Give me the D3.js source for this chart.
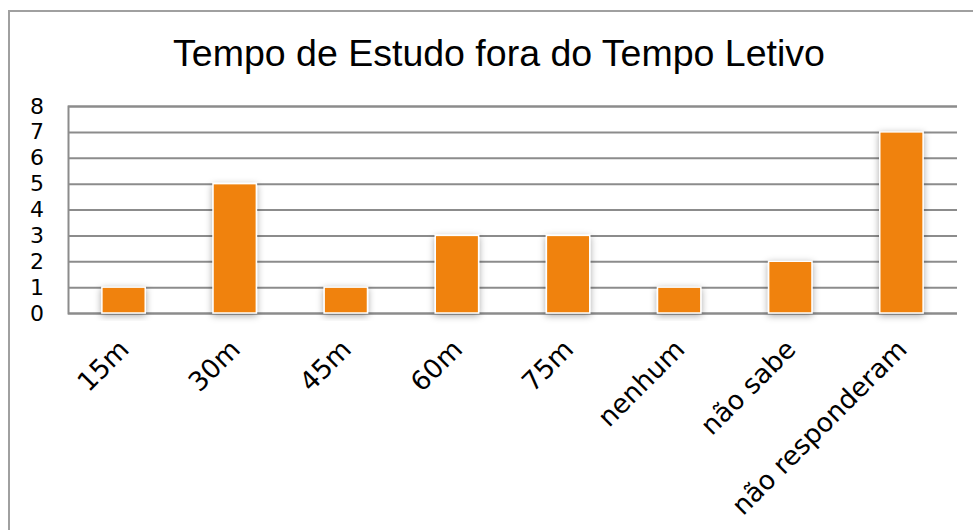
<!DOCTYPE html>
<html>
<head>
<meta charset="utf-8">
<script src="https://cdn.jsdelivr.net/npm/d3@7"></script>
<style>
  html, body { margin: 0; padding: 0; background: #fff; }
  svg { display: block; }
</style>
</head>
<body>
<svg id="chart" width="973" height="530"></svg>
<script>
const title = "Tempo de Estudo fora do Tempo Letivo";
const categories = ["15m", "30m", "45m", "60m", "75m", "nenhum", "não sabe", "não responderam"];
const values = [1, 5, 1, 3, 3, 1, 2, 7];
const yTicks = [0, 1, 2, 3, 4, 5, 6, 7, 8];

const W = 973, H = 530;
const margin = { left: 68, right: 16, top: 106, bottom: 217 };
const svg = d3.select("#chart");

const defs = svg.append("defs");
const f = defs.append("filter").attr("id", "shadow")
  .attr("x", "-30%").attr("y", "-30%").attr("width", "160%").attr("height", "160%");
f.append("feDropShadow").attr("dx", 0).attr("dy", 2).attr("stdDeviation", 3.5)
  .attr("flood-color", "#000").attr("flood-opacity", 0.35);

// chart border
svg.append("rect").attr("x", 9).attr("y", 11).attr("width", 1000).attr("height", 600)
  .attr("fill", "#fff").attr("stroke", "#a0a0a0").attr("stroke-width", 2);

const x = d3.scaleBand().domain(categories).range([margin.left, W - margin.right]).padding(0);
const y = d3.scaleLinear().domain([0, 8]).range([H - margin.bottom, margin.top]);

// title
svg.append("text").attr("x", 499).attr("y", 66).attr("text-anchor", "middle")
  .attr("font-family", "Liberation Sans, Arial, sans-serif").attr("font-size", 37.5)
  .attr("fill", "#000").text(title);

// grid
const yAxis = d3.axisLeft(y).tickValues(yTicks).tickSize(-(W - margin.right - margin.left)).tickFormat(d3.format("d")).tickPadding(24);
const gy = svg.append("g").attr("transform", `translate(${margin.left},0)`).call(yAxis);
gy.select(".domain").attr("stroke", "#8c8c8c").attr("stroke-width", 2);
gy.selectAll(".tick line").attr("stroke", "#8c8c8c").attr("stroke-width", 2);
gy.selectAll(".tick text").attr("font-family", "DejaVu Sans, Verdana, sans-serif")
  .attr("font-size", 22).attr("fill", "#000");

// bars
const barW = x.bandwidth() * 0.39;
svg.append("g").selectAll("rect").data(values).join("rect")
  .attr("x", (d, i) => x(categories[i]) + (x.bandwidth() - barW) / 2)
  .attr("y", d => y(d))
  .attr("width", barW)
  .attr("height", d => y(0) - y(d))
  .attr("fill", "#F0820A")
  .attr("stroke", "#fff").attr("stroke-width", 1.5)
  .attr("filter", "url(#shadow)");

// x axis
const xAxis = d3.axisBottom(x).tickSize(0).tickPadding(0);
const gx = svg.append("g").attr("transform", `translate(0,${y(0)})`).call(xAxis);
gx.select(".domain").remove();
gx.selectAll(".tick text")
  .attr("font-family", "DejaVu Sans, Verdana, sans-serif").attr("font-size", 26.5).attr("fill", "#000")
  .attr("text-anchor", "end")
  .attr("dy", 0)
  .attr("transform", "translate(7,38) rotate(-45)");
</script>
</body>
</html>
